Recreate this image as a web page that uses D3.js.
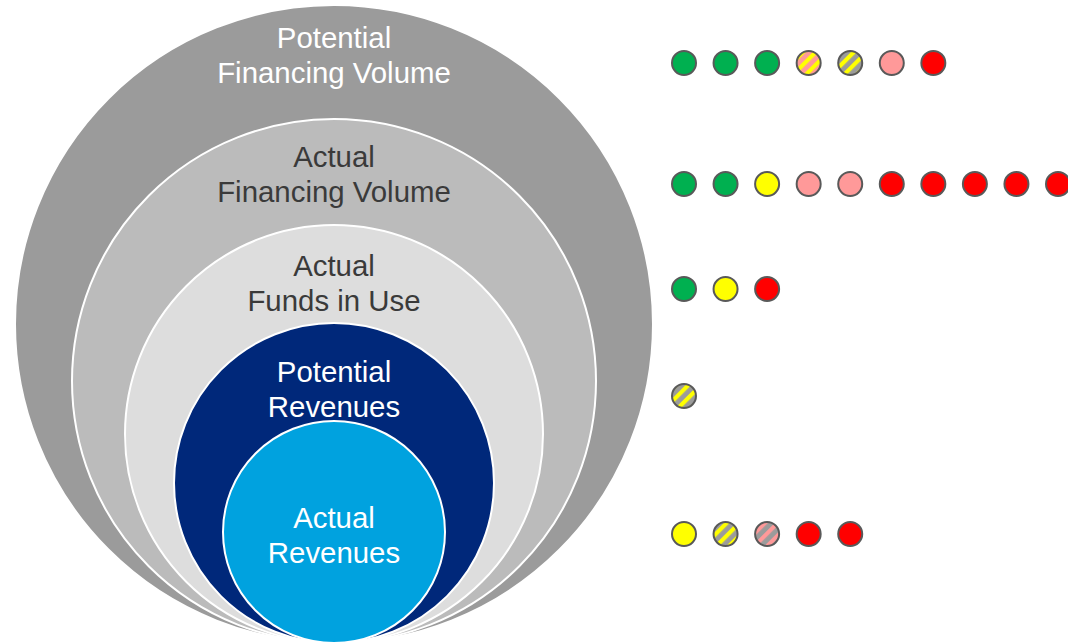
<!DOCTYPE html>
<html>
<head>
<meta charset="utf-8">
<script src="https://cdn.jsdelivr.net/npm/d3@7"></script>
<style>
  html, body { margin: 0; padding: 0; background: #fff; }
  svg { display: block; }
</style>
</head>
<body>
<svg id="chart" width="1068" height="643"></svg>
<script>
// -------------------- DATA -------------------- //
let levels = [
    ["Potential", "Financing Volume"],
    ["Actual", "Financing Volume"],
    ["Actual", "Funds in Use"],
    ["Potential", "Revenues"],
    ["Actual", "Revenues"]
];

// status of each item, one list per level
let row1 = ["green", "green", "green", "pink-yellow", "gray-yellow", "pink", "red"];
let row2 = ["green", "green", "yellow", "pink", "pink", "red", "red", "red", "red", "red"];
let row3 = ["green", "yellow", "red"];
let row4 = ["gray-yellow"];
let row5 = ["yellow", "gray-yellow", "gray-pink", "red", "red"];
let rows = [row1, row2, row3, row4, row5];

let statuses = ["green", "yellow", "pink", "red", "pink-yellow", "gray-yellow", "gray-pink"];

// -------------------- LAYOUT -------------------- //
let svg = d3.select("#chart");
let CX = 334, BOTTOM = 643;
let ringRadius = [319, 262, 209, 160, 111];
let ringFill = ["#9b9b9b", "#bbbbbb", "#dddddd", "#00287a", "#00a2df"];
let textFill = ["#ffffff", "#3a3a3a", "#3a3a3a", "#ffffff", "#ffffff"];
let labelBase = [48, 167, 276, 382, 528];
let rowY = [63, 184, 289, 396, 534];

// Stripe patterns
let defs = svg.append("defs");
let stripes = [
    {id: "pink-yellow", bg: "#ff9999", fg: "#ffff00"},
    {id: "gray-yellow", bg: "#9b9b9b", fg: "#ffff00"},
    {id: "gray-pink", bg: "#9b9b9b", fg: "#ff9999"}
];
stripes.forEach(s => {
    let p = defs.append("pattern")
        .attr("id", "pat-" + s.id)
        .attr("patternUnits", "userSpaceOnUse")
        .attr("width", 9).attr("height", 9)
        .attr("patternTransform", "rotate(45)");
    p.append("rect").attr("width", 9).attr("height", 9).attr("fill", s.bg);
    p.append("rect").attr("width", 4.2).attr("height", 9).attr("fill", s.fg);
});

let color = d3.scaleOrdinal()
    .domain(statuses)
    .range(["#00b050", "#ffff00", "#ff9999", "#ff0000",
            "url(#pat-pink-yellow)", "url(#pat-gray-yellow)", "url(#pat-gray-pink)"]);

// -------------------- RINGS -------------------- //
svg.append("g").selectAll("circle")
    .data(levels)
    .join("circle")
    .attr("cx", CX)
    .attr("cy", (d, i) => BOTTOM - ringRadius[i])
    .attr("r", (d, i) => ringRadius[i])
    .attr("fill", (d, i) => ringFill[i])
    .attr("stroke", "#ffffff")
    .attr("stroke-width", 2);

let labels = svg.append("g").selectAll("text")
    .data(levels)
    .join("text")
    .attr("text-anchor", "middle")
    .attr("font-family", "Liberation Sans, Arial, sans-serif")
    .attr("font-size", 29.4)
    .attr("fill", (d, i) => textFill[i]);

labels.selectAll("tspan")
    .data((d, i) => d.map(t => ({t: t, i: i})))
    .join("tspan")
    .attr("x", CX)
    .attr("y", (d, j) => labelBase[d.i] + j * 35)
    .text(d => d.t);

// -------------------- DOTS -------------------- //
let x = d3.scaleLinear().domain([0, 9]).range([684, 1058]);

svg.append("g").selectAll("g")
    .data(rows)
    .join("g")
    .attr("transform", (d, i) => `translate(0,${rowY[i]})`)
    .selectAll("circle")
    .data(d => d)
    .join("circle")
    .attr("cx", (d, i) => x(i))
    .attr("cy", 0)
    .attr("r", 12)
    .attr("fill", d => color(d))
    .attr("stroke", "#595959")
    .attr("stroke-width", 2);
</script>
</body>
</html>
